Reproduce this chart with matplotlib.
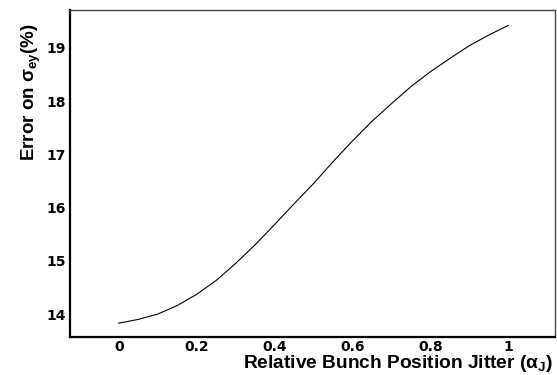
import matplotlib
matplotlib.use('Agg')
import matplotlib.pyplot as plt

# Data
jitter = [0.0, 0.05, 0.1, 0.15, 0.2, 0.25, 0.3, 0.35, 0.4, 0.45, 0.5,
          0.55, 0.6, 0.65, 0.7, 0.75, 0.8, 0.85, 0.9, 0.95, 1.0]
error_pct = [13.83, 13.90, 14.00, 14.16, 14.37, 14.63, 14.95, 15.30, 15.68, 16.07, 16.45,
             16.86, 17.25, 17.62, 17.95, 18.27, 18.55, 18.80, 19.04, 19.24, 19.42]
x_ticks = [0, 0.2, 0.4, 0.6, 0.8, 1]
x_tick_labels = ['0', '0.2', '0.4', '0.6', '0.8', '1']
y_ticks = [14, 15, 16, 17, 18, 19]

plt.rcParams['font.family'] = ['Liberation Sans', 'DejaVu Sans']
plt.rcParams['mathtext.fontset'] = 'custom'
plt.rcParams['mathtext.rm'] = 'Liberation Sans:bold'
plt.rcParams['mathtext.it'] = 'Liberation Sans:bold'
plt.rcParams['mathtext.bf'] = 'Liberation Sans:bold'

fig = plt.figure(figsize=(5.57, 3.75), dpi=100)
ax = fig.add_axes([70 / 557, 1 - 337 / 375, 485 / 557, 327 / 375])

ax.plot(jitter, error_pct, color='black', linewidth=0.8)

ax.set_xlim(-0.125, 1.12)
ax.set_ylim(13.57, 19.71)

ax.set_xticks(x_ticks)
ax.set_xticklabels(x_tick_labels)
ax.set_yticks(y_ticks)
ax.tick_params(length=0)
ax.tick_params(axis='x', pad=2)
ax.tick_params(axis='y', pad=3)
for lbl in ax.get_xticklabels() + ax.get_yticklabels():
    lbl.set_fontweight('bold')
    lbl.set_family('DejaVu Sans')
    lbl.set_fontsize(10)

ax.spines['left'].set_linewidth(1.6)
ax.spines['bottom'].set_linewidth(1.6)
ax.spines['left'].set_color('black')
ax.spines['bottom'].set_color('black')
ax.spines['top'].set_linewidth(1.0)
ax.spines['right'].set_linewidth(1.0)
ax.spines['top'].set_color('#444444')
ax.spines['right'].set_color('#444444')

ax.set_xlabel(r'Relative Bunch Position Jitter ($\mathrm{\alpha}_{\mathrm{J}}$)',
              fontsize=13.8, fontweight='bold', ha='right', va='baseline')
ax.xaxis.set_label_coords(0.996, -0.095)
ax.set_ylabel(r'Error on $\mathrm{\sigma}_{\mathrm{ey}}$(%)',
              fontsize=13.5, fontweight='bold', ha='right')
ax.yaxis.set_label_coords(-0.056, 0.96)

fig.savefig('out.png', dpi=100)
plt.close(fig)
